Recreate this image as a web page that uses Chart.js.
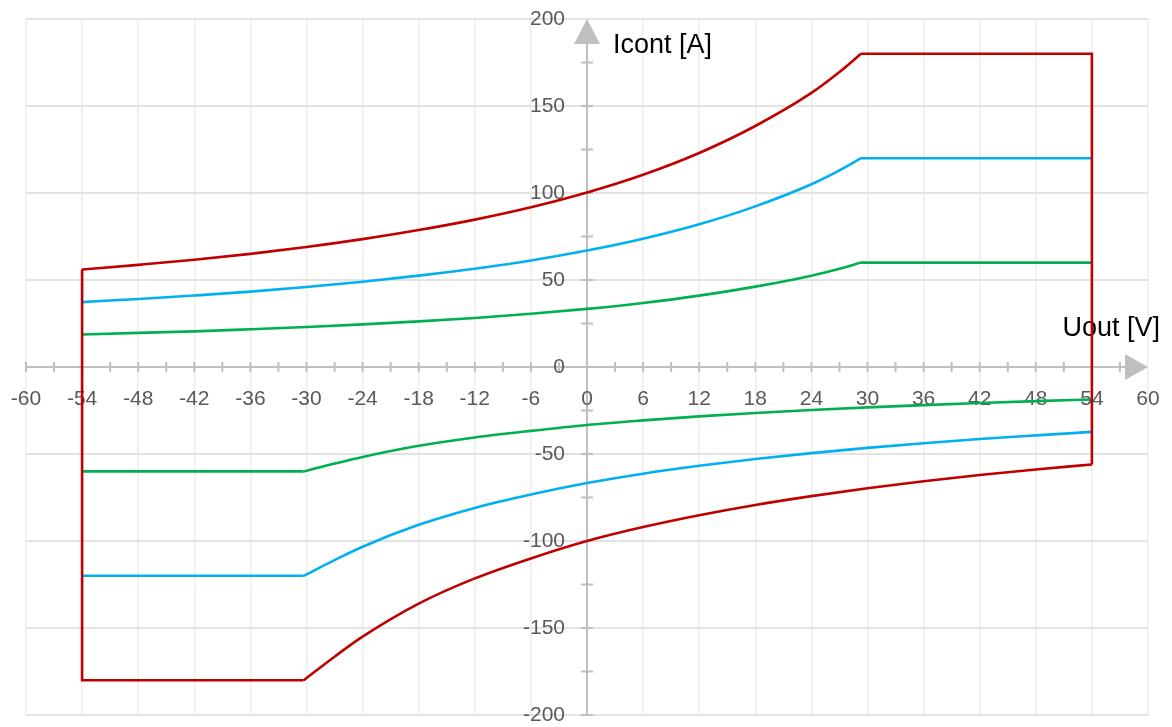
<!DOCTYPE html>
<html>
<head>
<meta charset="utf-8">
<title>Icont vs Uout</title>
<script src="https://cdn.jsdelivr.net/npm/chart.js@4/dist/chart.umd.min.js"></script>
<style>
  html, body { margin: 0; padding: 0; background: #fff; }
  #wrap { width: 1172px; height: 727px; position: relative; }
</style>
</head>
<body>
<div id="wrap"><canvas id="chart"></canvas></div>
<script>
// Upper branch (positive current)
const uTop = [-54, -48, -42, -36, -30, -24, -18, -12, -6, 0, 6, 12, 18, 24, 27, 29.3];
const redTop = [56, 58.7, 61.6, 65, 69, 73.5, 78.7, 84.7, 91.8, 100.3, 110.5, 123, 138.5, 157.5, 169.5, 180];
const blueTop = [37.3, 39.1, 41.1, 43.3, 46, 49, 52.5, 56.5, 61.2, 66.9, 73.7, 82, 92.3, 105, 113, 120];
const greenTop = [18.7, 19.6, 20.5, 21.7, 23, 24.5, 26.2, 28.2, 30.6, 33.4, 36.8, 41, 46.2, 52.5, 56.5, 60];

// Lower branch (negative current)
const uBottom = [-30.3, -27, -24, -18, -12, -6, 0, 6, 12, 18, 24, 30, 36, 42, 48, 54];
const redBottom = [-180, -166.5, -155, -136, -121.5, -110, -100, -92, -85.2, -79.3, -74.2, -69.7, -65.7, -62.1, -58.9, -56];
const blueBottom = [-120, -111, -103.3, -90.7, -81, -73.3, -66.7, -61.3, -56.8, -52.9, -49.5, -46.5, -43.8, -41.4, -39.3, -37.3];
const greenBottom = [-60, -55.5, -51.7, -45.3, -40.5, -36.7, -33.3, -30.7, -28.4, -26.4, -24.7, -23.2, -21.9, -20.7, -19.6, -18.7];

// Flat current limits
const uFlatTop = [29.3, 54];
const uFlatBottom = [-54, -30.3];
const redLimit = 180;
const blueLimit = 120;
const greenLimit = 60;

const uMin = -60, uMax = 60, uStep = 6;
const iMin = -200, iMax = 200, iStep = 50;
const xTitle = 'Uout [V]';
const yTitle = 'Icont [A]';

const RED = '#C00000', BLUE = '#00B0F0', GREEN = '#00B050';
const FONT = '"Liberation Sans", Arial, sans-serif';

const pts = (xs, ys) => xs.map((x, i) => ({ x: x, y: ys[i] }));

function curve(xs, ys, color) {
  return { data: pts(xs, ys), borderColor: color, borderWidth: 2.6, showLine: true,
           pointRadius: 0, cubicInterpolationMode: 'monotone', fill: false };
}
function straight(points, color) {
  return { data: points, borderColor: color, borderWidth: 2.6, showLine: true,
           pointRadius: 0, tension: 0, fill: false, borderJoinStyle: 'miter' };
}

const datasets = [
  curve(uTop, redTop, RED),
  curve(uBottom, redBottom, RED),
  // right edge: flat top limit then down to the lower curve
  straight([{ x: uFlatTop[0], y: redLimit }, { x: uFlatTop[1], y: redLimit },
            { x: uFlatTop[1], y: redBottom[redBottom.length - 1] }], RED),
  // left edge: flat bottom limit then up to the upper curve
  straight([{ x: uFlatBottom[1], y: -redLimit }, { x: uFlatBottom[0], y: -redLimit },
            { x: uFlatBottom[0], y: redTop[0] }], RED),
  curve(uTop, blueTop, BLUE),
  curve(uBottom, blueBottom, BLUE),
  straight(pts(uFlatTop, [blueLimit, blueLimit]), BLUE),
  straight(pts(uFlatBottom, [-blueLimit, -blueLimit]), BLUE),
  curve(uTop, greenTop, GREEN),
  curve(uBottom, greenBottom, GREEN),
  straight(pts(uFlatTop, [greenLimit, greenLimit]), GREEN),
  straight(pts(uFlatBottom, [-greenLimit, -greenLimit]), GREEN)
];

// axes through the origin, with arrows, minor ticks and labels
const centerAxes = {
  id: 'centerAxes',
  beforeDatasetsDraw(chart) {
    const { ctx, scales: { x, y } } = chart;
    const x0 = x.getPixelForValue(0), y0 = y.getPixelForValue(0);
    const gray = '#BFBFBF';
    ctx.save();
    ctx.strokeStyle = gray;
    ctx.lineWidth = 2;

    const xEnd = x.getPixelForValue(uMax), yTop = y.getPixelForValue(iMax);
    ctx.beginPath();
    ctx.moveTo(x.getPixelForValue(uMin), y0);
    ctx.lineTo(xEnd - 20, y0);
    ctx.moveTo(x0, y.getPixelForValue(iMin));
    ctx.lineTo(x0, yTop + 22);
    ctx.stroke();

    // minor ticks
    ctx.beginPath();
    for (let v = uMin; v < uMax; v += uStep / 2) {
      const px = x.getPixelForValue(v);
      ctx.moveTo(px, y0 - 5); ctx.lineTo(px, y0 + 5);
    }
    for (let v = iMin; v < iMax; v += iStep / 2) {
      const py = y.getPixelForValue(v);
      ctx.moveTo(x0 - 6, py); ctx.lineTo(x0 + 6, py);
    }
    ctx.stroke();

    // arrows
    ctx.fillStyle = gray;
    ctx.beginPath();
    ctx.moveTo(xEnd, y0);
    ctx.lineTo(xEnd - 23, y0 - 13);
    ctx.lineTo(xEnd - 23, y0 + 13);
    ctx.closePath();
    ctx.fill();
    ctx.beginPath();
    ctx.moveTo(x0, yTop);
    ctx.lineTo(x0 - 13, yTop + 25);
    ctx.lineTo(x0 + 13, yTop + 25);
    ctx.closePath();
    ctx.fill();

    // tick labels
    ctx.fillStyle = '#595959';
    ctx.font = '21px ' + FONT;
    ctx.textAlign = 'center';
    ctx.textBaseline = 'middle';
    for (let v = uMin; v <= uMax; v += uStep) {
      ctx.fillText(String(v), x.getPixelForValue(v), y0 + 32);
    }
    ctx.textAlign = 'right';
    for (let v = iMin; v <= iMax; v += iStep) {
      ctx.fillText(String(v), x0 - 22, y.getPixelForValue(v));
    }

    // axis titles
    ctx.fillStyle = '#000';
    ctx.font = '27px ' + FONT;
    ctx.textAlign = 'left';
    ctx.fillText(yTitle, x0 + 26, yTop + 27);
    ctx.textAlign = 'right';
    ctx.fillText(xTitle, xEnd + 12, y0 - 38);
    ctx.restore();
  }
};

new Chart(document.getElementById('chart'), {
  type: 'scatter',
  data: { datasets: datasets },
  options: {
    responsive: true,
    maintainAspectRatio: false,
    animation: false,
    layout: { padding: { left: 26, right: 24, top: 19, bottom: 12 } },
    plugins: { legend: { display: false }, tooltip: { enabled: false } },
    scales: {
      x: {
        type: 'linear', min: uMin, max: uMax,
        ticks: { stepSize: uStep, display: false },
        grid: { color: '#EFEDE6', lineWidth: 1.5, drawTicks: false },
        border: { display: false }
      },
      y: {
        type: 'linear', min: iMin, max: iMax,
        ticks: { stepSize: iStep, display: false },
        grid: { color: '#E3E3E3', lineWidth: 2, drawTicks: false },
        border: { display: false }
      }
    }
  },
  plugins: [centerAxes]
});
</script>
</body>
</html>
